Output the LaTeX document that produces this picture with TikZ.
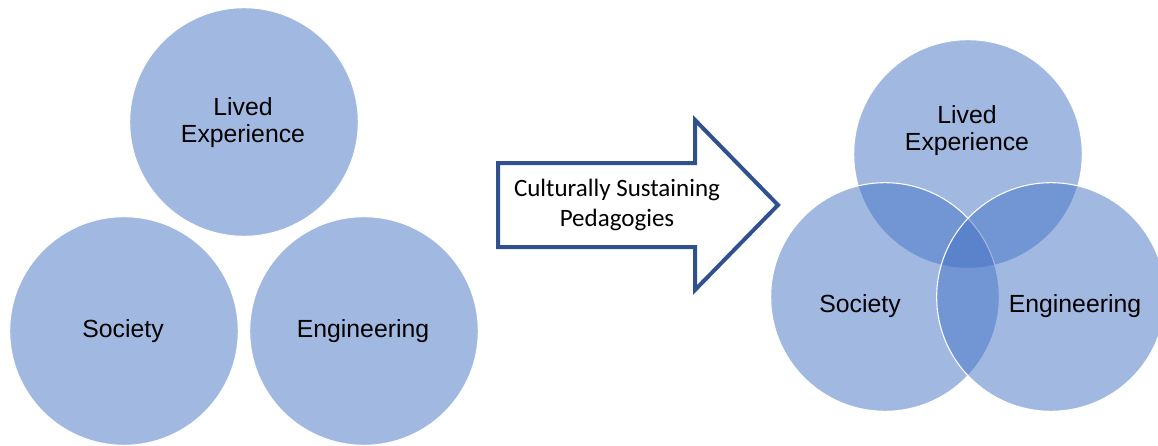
\documentclass[tikz,border=0pt]{standalone}
\usepackage{fontspec}
\setmainfont{Liberation Sans}
\newfontfamily\calibrifont{Carlito}
\definecolor{accent}{HTML}{4472C4}
\definecolor{arrowblue}{HTML}{2F528F}
\begin{document}
\begin{tikzpicture}[x=0.75pt,y=-0.75pt,
  blob/.style={circle, minimum size=171.5pt, inner sep=0pt, fill=accent, fill opacity=0.5, draw=white, draw opacity=1, line width=0.8pt},
  lab/.style={font=\fontsize{18.6}{20.25}\selectfont, align=center, text=black, inner sep=0pt},
  arrowlab/.style={font=\calibrifont\fontsize{18.75}{22.5}\selectfont, align=center, text=black, inner sep=0pt},
  bigarrow/.style={draw=arrowblue, fill=white, line width=3pt, line join=miter}
  ]
\useasboundingbox (0,0) rectangle (1158,446);
% left, separate circles
\node[blob] (l1) at (244,122) {};
\node[blob] (l2) at (124,331) {};
\node[blob] (l3) at (364,331) {};
\node[lab] (t1) at (243,123) {Lived\\Experience};
\node[lab] (t2) at (123,331) {Society};
\node[lab] (t3) at (363,331) {Engineering};
% arrow
\draw[bigarrow] (498,163) -- (695,163) -- (695,120) -- (778,205) -- (695,290) -- (695,247) -- (498,247) -- cycle;
\node[arrowlab] (ta) at (617,205) {Culturally Sustaining\\Pedagogies};
% right, Venn
\node[blob] (r1) at (968,154) {};
\node[blob] (r2) at (885,297) {};
\node[blob] (r3) at (1051,297) {};
\node[lab] (u1) at (967,131) {Lived\\Experience};
\node[lab] (u2) at (860,306) {Society};
\node[lab] (u3) at (1075,306) {Engineering};
\end{tikzpicture}
\end{document}
